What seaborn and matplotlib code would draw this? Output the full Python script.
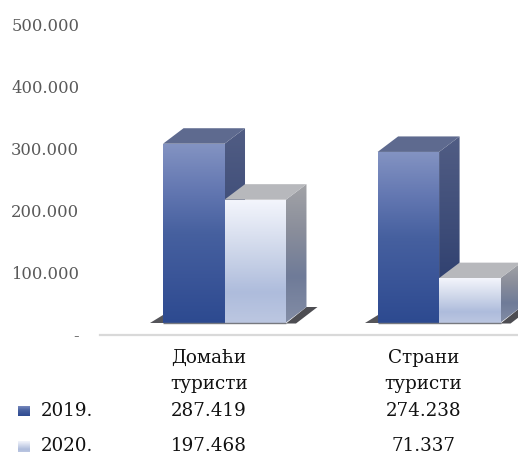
import numpy as np
import pandas as pd
import matplotlib
matplotlib.use("Agg")
import matplotlib.pyplot as plt
from matplotlib.patches import Polygon
from matplotlib.colors import LinearSegmentedColormap
from matplotlib.transforms import blended_transform_factory
import seaborn as sns

categories = ["Домаћи\nтуристи", "Страни\nтуристи"]
years = ["2019.", "2020."]
values_2019 = [287419, 274238]
values_2020 = [197468, 71337]
value_labels_2019 = ["287.419", "274.238"]
value_labels_2020 = ["197.468", "71.337"]
y_ticks = [0, 100000, 200000, 300000, 400000, 500000]
y_tick_labels = ["-", "100.000", "200.000", "300.000", "400.000", "500.000"]

W, H = 518, 455
sns.set_theme(style="white")
plt.rcParams["font.family"] = ["DejaVu Serif"]

df = pd.DataFrame({
    "category": categories * 2,
    "year": [years[0]] * 2 + [years[1]] * 2,
    "value": values_2019 + values_2020,
})

fig = plt.figure(figsize=(W / 100, H / 100), dpi=100)
# axes placed in pixels: x 100-518, y 24-335
ax = fig.add_axes([100 / W, 1 - 335 / H, 418 / W, 311 / H])

sns.barplot(data=df, x="category", y="value", hue="year", hue_order=years,
            width=0.573, gap=0, dodge=True, palette=["#4a63a6", "#d5dcef"],
            legend=False, ax=ax, zorder=1, saturation=1)

x_lim = (-0.508, 1.44)
ax.set_xlim(*x_lim)
ax.set_ylim(0, 500000)

# how much one pixel is worth on each scale
px_x = (x_lim[1] - x_lim[0]) / 418
px_y = 500000 / 311
depth_x = 20.5 * px_x
depth_y = 15.5 * px_y
floor = 12.5 * px_y  # front faces sit above the axis line
shift = 15.5 * px_x  # 3D look: bars sit right of the category centre


def gradient(colors):
    return LinearSegmentedColormap.from_list("g", colors)


front_cm = [gradient(["#8393c2", "#6478b2", "#46609f", "#3a5598", "#2d4a90"]),
            gradient(["#f3f5fc", "#dde3f1", "#c6d0e6", "#aebcdc", "#bcc7e1"])]
side_cm = [gradient(["#515d84", "#3d4c78", "#26386a"]),
           gradient(["#a2a3a7", "#8a8e9b", "#6f7b98", "#838da6"])]
top_col = ["#5e6a8f", "#b7b8bc"]
ramp = np.linspace(0, 1, 256).reshape(-1, 1)


def fill_poly(points, cm, z):
    xs = [p[0] for p in points]
    ys = [p[1] for p in points]
    poly = Polygon(points, closed=True, fc="none", ec="none", zorder=z)
    ax.add_patch(poly)
    im = ax.imshow(ramp, cmap=cm, aspect="auto", zorder=z, origin="upper",
                   extent=(min(xs), max(xs), min(ys), max(ys)))
    im.set_clip_path(poly)


for i, container in enumerate(ax.containers):
    for bar in container:
        bar.set_x(bar.get_x() + shift)
        x0 = bar.get_x()
        w = bar.get_width()
        h = bar.get_height()
        y0 = floor
        y1 = floor + h
        x1 = x0 + w
        z = 2 + i * 2
        bar.set_y(y0)
        bar.set_zorder(z)
        bar.set_edgecolor("none")
        if i == 0:
            # floor shadow left of the group
            ax.add_patch(Polygon([(x0 - 13 * px_x, y0), (x0, y0), (x0, y0 + 8 * px_y)],
                                 fc="#55555a", ec="none", zorder=1.5))
        else:
            # floor shadow right of the group
            ax.add_patch(Polygon([(x1, y0 - px_y), (x1 + depth_x, y0 + depth_y),
                                  (x1 + depth_x + 11 * px_x, y0 + depth_y),
                                  (x1 + 10 * px_x, y0 - px_y)],
                                 fc="#4d4d52", ec="none", zorder=1.5))
            ax.plot([x0 - w, x1], [y0, y0], color="#77797f", lw=1.0, zorder=z + 1,
                    solid_capstyle="butt")
        # right side
        fill_poly([(x1, y0), (x1, y1), (x1 + depth_x, y1 + depth_y), (x1 + depth_x, y0 + depth_y)],
                  side_cm[i], z)
        # top
        ax.add_patch(Polygon([(x0, y1), (x1, y1), (x1 + depth_x, y1 + depth_y), (x0 + depth_x, y1 + depth_y)],
                             fc=top_col[i], ec="none", zorder=z))
        # front
        fill_poly([(x0, y0), (x0, y1), (x1, y1), (x1, y0)], front_cm[i], z + 0.5)

ax.set_xlim(*x_lim)
ax.set_ylim(0, 500000)
ax.set_xlabel("")
ax.set_ylabel("")
ax.set_yticks(y_ticks)
ax.set_yticklabels(y_tick_labels, color="#595959", fontsize=11.8)
ax.tick_params(axis="y", length=0, pad=15)
ax.tick_params(axis="x", length=0, pad=10)
ax.set_xticks([0, 1])
ax.set_xticklabels(categories, color="#111111", fontsize=13.2, linespacing=1.55)
for side in ["top", "right", "left"]:
    ax.spines[side].set_visible(False)
ax.spines["bottom"].set_color("#d9d9d9")
ax.spines["bottom"].set_linewidth(1.6)
ax.patch.set_alpha(0)

# table rows below the chart
tr = blended_transform_factory(ax.transData, fig.transFigure)
row_y = [411, 446]
for y, year, labels, cm in zip(row_y, years, [value_labels_2019, value_labels_2020], front_cm):
    for k, label in enumerate(labels):
        ax.text(k, 1 - y / H, label, transform=tr, ha="center", va="center",
                fontsize=13.2, color="#111111", clip_on=False)
    fig.text(41 / W, 1 - y / H, year, ha="left", va="center", fontsize=13.2, color="#111111")
    key = fig.add_axes([18 / W, 1 - (y + 5.5) / H, 12 / W, 11 / H])
    key.imshow(ramp, cmap=cm, aspect="auto")
    key.axis("off")

fig.savefig("out.png", dpi=100)
